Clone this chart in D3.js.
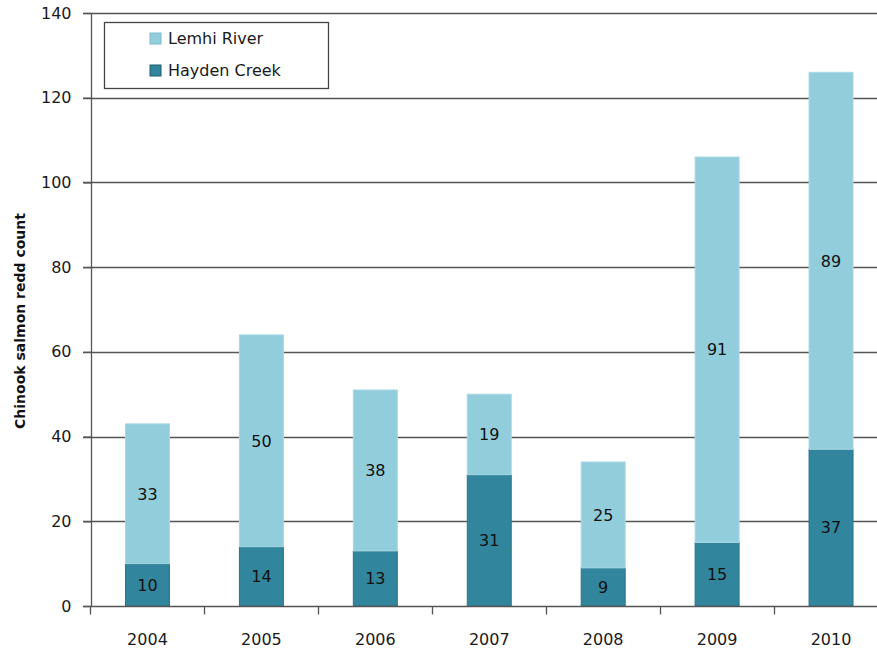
<!DOCTYPE html>
<html>
<head>
<meta charset="utf-8">
<script src="https://cdn.jsdelivr.net/npm/d3@7"></script>
<style>
  body { margin: 0; background: #fff; }
  svg { display: block; font-family: "DejaVu Sans", Verdana, sans-serif; }
</style>
</head>
<body>
<div id="chart"></div>
<script>
const years = ["2004", "2005", "2006", "2007", "2008", "2009", "2010"];
const haydenCreek = [10, 14, 13, 31, 9, 15, 37];
const lemhiRiver = [33, 50, 38, 19, 25, 91, 89];
const yTicks = [0, 20, 40, 60, 80, 100, 120, 140];
const seriesNames = ["Lemhi River", "Hayden Creek"];

const width = 877, height = 648;
const colors = { "Hayden Creek": "#31859c", "Lemhi River": "#92cddc" };
const strokes = { "Hayden Creek": "#2a7389", "Lemhi River": "#a9d8e4" };

const svg = d3.select("#chart").append("svg")
  .attr("width", width)
  .attr("height", height);

const x = d3.scaleBand().domain(years).range([90.5, 888]).paddingInner(0.614).paddingOuter(0.307);
const y = d3.scaleLinear().domain([0, 140]).range([606, 13]);

// gridlines
svg.append("g")
  .selectAll("line")
  .data(yTicks.filter(d => d > 0))
  .enter().append("line")
  .attr("x1", 83).attr("x2", width)
  .attr("y1", d => Math.round(y(d)) + 0.5).attr("y2", d => Math.round(y(d)) + 0.5)
  .attr("stroke", "#555").attr("stroke-width", 1.3);

// stacked bars
const rows = years.map((yr, i) => ({ year: yr, "Hayden Creek": haydenCreek[i], "Lemhi River": lemhiRiver[i] }));
const stack = d3.stack().keys(["Hayden Creek", "Lemhi River"])(rows);

const layers = svg.append("g").selectAll("g")
  .data(stack)
  .enter().append("g");

layers.selectAll("rect")
  .data(s => s.map(d => ({ key: s.key, d })))
  .enter().append("rect")
  .attr("x", p => x(p.d.data.year))
  .attr("width", x.bandwidth())
  .attr("y", p => y(p.d[1]))
  .attr("height", p => y(p.d[0]) - y(p.d[1]))
  .attr("fill", p => colors[p.key])
  .attr("stroke", p => strokes[p.key])
  .attr("stroke-width", 1);

layers.selectAll("text")
  .data(s => s.map(d => ({ key: s.key, d })))
  .enter().append("text")
  .attr("x", p => x(p.d.data.year) + x.bandwidth() / 2)
  .attr("y", p => (y(p.d[0]) + y(p.d[1])) / 2)
  .attr("dy", "0.36em")
  .attr("text-anchor", "middle")
  .attr("font-size", 16)
  .attr("fill", "#111")
  .text(p => p.d[1] - p.d[0]);

// y axis
const yAxis = svg.append("g")
  .attr("transform", "translate(91.5,0)")
  .call(d3.axisLeft(y).tickValues(yTicks).tickSize(8).tickPadding(12));
yAxis.select(".domain").attr("stroke", "#555").attr("stroke-width", 1.3).attr("d", `M0,${y(140)}V${y(0)}`);
yAxis.selectAll(".tick line").attr("stroke", "#555").attr("stroke-width", 1.3);
yAxis.selectAll(".tick text").attr("font-size", 16).attr("fill", "#1a1a1a").attr("font-family", "DejaVu Sans, sans-serif");

// x axis
const xAxis = svg.append("g")
  .attr("transform", `translate(0,${Math.round(y(0)) + 0.5})`);
xAxis.append("line")
  .attr("x1", 83).attr("x2", width)
  .attr("stroke", "#555").attr("stroke-width", 1.3);
const bounds = years.map(yr => x(yr) - x.step() * x.paddingInner() / 2);
xAxis.selectAll(".xt")
  .data(bounds)
  .enter().append("line")
  .attr("x1", d => Math.round(d) + 0.5).attr("x2", d => Math.round(d) + 0.5)
  .attr("y1", 0).attr("y2", 8)
  .attr("stroke", "#555").attr("stroke-width", 1.3);
xAxis.selectAll(".xl")
  .data(years)
  .enter().append("text")
  .attr("x", d => x(d) + x.bandwidth() / 2)
  .attr("y", 38)
  .attr("text-anchor", "middle")
  .attr("font-size", 16)
  .attr("fill", "#1a1a1a")
  .text(d => d);

// y title
svg.append("text")
  .attr("transform", "translate(25,321) rotate(-90)")
  .attr("text-anchor", "middle")
  .attr("font-size", 14)
  .attr("font-weight", "bold")
  .attr("fill", "#111")
  .text("Chinook salmon redd count");

// legend
const legend = svg.append("g");
legend.append("rect")
  .attr("x", 104.5).attr("y", 22.5)
  .attr("width", 224).attr("height", 66)
  .attr("fill", "#fff").attr("stroke", "#444").attr("stroke-width", 1.3);
const li = legend.selectAll(".li")
  .data(seriesNames)
  .enter().append("g")
  .attr("transform", (d, i) => `translate(150,${33 + i * 32})`);
li.append("rect")
  .attr("width", 11).attr("height", 11)
  .attr("fill", d => colors[d])
  .attr("stroke", d => d === "Hayden Creek" ? "#1f5f70" : "#7fbccc");
li.append("text")
  .attr("x", 18).attr("y", 5.5).attr("dy", "0.36em")
  .attr("font-size", 16).attr("fill", "#1a1a1a")
  .text(d => d);
</script>
</body>
</html>
